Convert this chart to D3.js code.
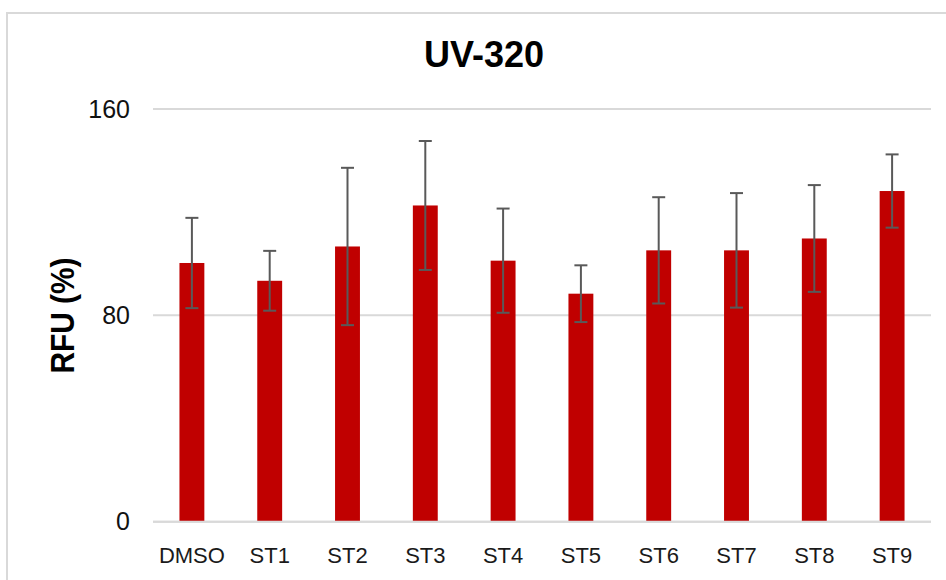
<!DOCTYPE html>
<html>
<head>
<meta charset="utf-8">
<script src="https://cdn.jsdelivr.net/npm/d3@7"></script>
<style>
  body { margin: 0; background: #fff; }
  svg { display: block; }
</style>
</head>
<body>
<div id="chart"></div>
<script>
var categories = ["DMSO", "ST1", "ST2", "ST3", "ST4", "ST5", "ST6", "ST7", "ST8", "ST9"]
var means = [100.3, 93.4, 106.7, 122.6, 101.2, 88.4, 105.2, 105.2, 109.8, 128.2]
var errors = [17.5, 11.6, 30.5, 25.0, 20.2, 11.0, 20.6, 22.2, 20.7, 14.2]
var yTicks = [0, 80, 160]

var data = categories.map(function (c, i) {
    return { name: c, mean: means[i], err: errors[i] }
})

var W = 946, H = 580
var margin = {top: 109, right: 15, bottom: 58, left: 153}
var width = 931 - margin.left,
    height = 521.7 - margin.top

var svg = d3.select("#chart").append("svg")
    .attr("width", W)
    .attr("height", H)

// outer chart border (only top/left are in frame)
svg.append("rect")
    .attr("x", 7).attr("y", 13)
    .attr("width", 1000).attr("height", 700)
    .attr("fill", "none")
    .attr("stroke", "#d9d9d9")
    .attr("stroke-width", 2)

var g = svg.append("g")
    .attr("transform", "translate(" + margin.left + "," + margin.top + ")")

var x = d3.scaleBand()
    .domain(categories)
    .range([0, width])
    .paddingInner(0.68)
    .paddingOuter(0.34)

var y = d3.scaleLinear()
    .domain([0, 160])
    .range([height, 0])

// gridlines
g.selectAll(".grid")
    .data(yTicks)
    .enter().append("line")
    .attr("class", "grid")
    .attr("x1", 0).attr("x2", width)
    .attr("y1", function (d) { return y(d) })
    .attr("y2", function (d) { return y(d) })
    .attr("stroke", "#d9d9d9")
    .attr("stroke-width", 2)

// y axis labels
var yAxis = d3.axisLeft(y).tickValues(yTicks).tickSize(0).tickPadding(23)
var ya = g.append("g").call(yAxis)
ya.select(".domain").remove()
ya.selectAll("text")
    .attr("font-family", "Liberation Sans, Arial, sans-serif")
    .attr("font-size", 25)
    .attr("fill", "#111")

// bars
g.selectAll(".bar")
    .data(data)
    .enter().append("rect")
    .attr("class", "bar")
    .attr("x", function (d) { return x(d.name) })
    .attr("width", x.bandwidth())
    .attr("y", function (d) { return y(d.mean) })
    .attr("height", function (d) { return height - y(d.mean) })
    .attr("fill", "#c00000")

// zero line on top of bars
g.append("line")
    .attr("x1", 0).attr("x2", width)
    .attr("y1", y(0)).attr("y2", y(0))
    .attr("stroke", "#d9d9d9")
    .attr("stroke-width", 2)

// error bars
var eb = g.selectAll(".err")
    .data(data)
    .enter().append("g")
    .attr("class", "err")
    .attr("stroke", "#595959")
    .attr("stroke-width", 2)

eb.append("line")
    .attr("x1", function (d) { return x(d.name) + x.bandwidth() / 2 })
    .attr("x2", function (d) { return x(d.name) + x.bandwidth() / 2 })
    .attr("y1", function (d) { return y(d.mean + d.err) })
    .attr("y2", function (d) { return y(d.mean - d.err) })

eb.selectAll(".cap")
    .data(function (d) { return [d.mean + d.err, d.mean - d.err].map(function (v) { return {name: d.name, v: v} }) })
    .enter().append("line")
    .attr("class", "cap")
    .attr("x1", function (d) { return x(d.name) + x.bandwidth() / 2 - 6.5 })
    .attr("x2", function (d) { return x(d.name) + x.bandwidth() / 2 + 6.5 })
    .attr("y1", function (d) { return y(d.v) })
    .attr("y2", function (d) { return y(d.v) })

// x axis labels
var xAxis = d3.axisBottom(x).tickSize(0).tickPadding(26)
var xa = g.append("g")
    .attr("transform", "translate(0," + height + ")")
    .call(xAxis)
xa.select(".domain").remove()
xa.selectAll("text")
    .attr("font-family", "Liberation Sans, Arial, sans-serif")
    .attr("font-size", 22)
    .attr("fill", "#1a1a1a")

// title
svg.append("text")
    .attr("x", 484).attr("y", 67)
    .attr("text-anchor", "middle")
    .attr("font-family", "Liberation Sans, Arial, sans-serif")
    .attr("font-weight", "bold")
    .attr("font-size", 36)
    .text("UV-320")

// y label
svg.append("text")
    .attr("transform", "translate(74,315.5) rotate(-90)")
    .attr("text-anchor", "middle")
    .attr("font-family", "Liberation Sans, Arial, sans-serif")
    .attr("font-weight", "bold")
    .attr("font-size", 33)
    .attr("textLength", 116)
    .attr("lengthAdjust", "spacingAndGlyphs")
    .text("RFU (%)")
</script>
</body>
</html>
